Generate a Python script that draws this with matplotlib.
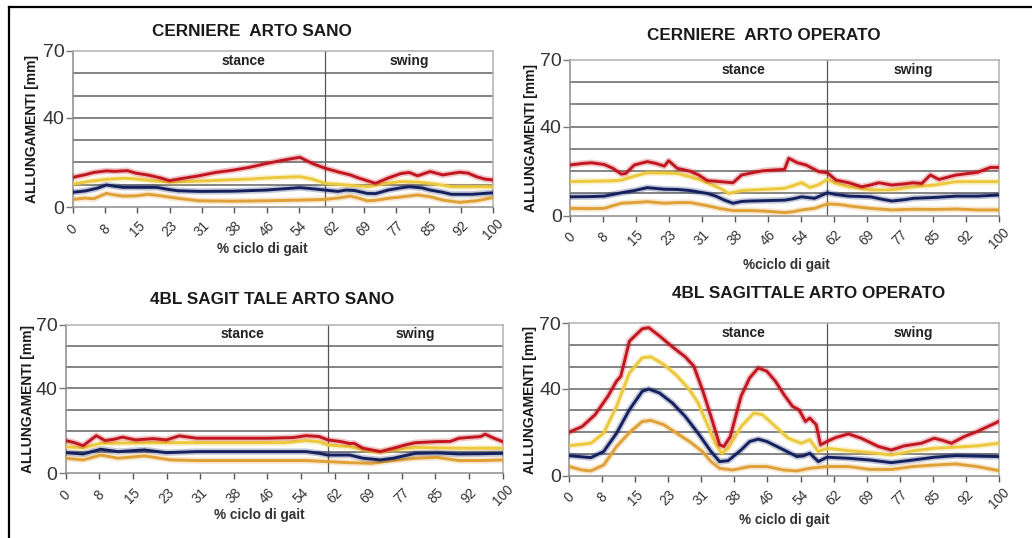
import matplotlib
matplotlib.use("Agg")
import matplotlib.pyplot as plt
import matplotlib.patheffects as pe
from matplotlib.lines import Line2D

plt.rcParams["font.family"] = ["Liberation Sans", "DejaVu Sans"]

# x tick labels (% of gait cycle) and phase boundary
x_tick_labels = ["0", "8", "15", "23", "31", "38", "46", "54",
                 "62", "69", "77", "85", "92", "100"]
phase_split = 60
y_labels = [0, 40, 70]

titles = ["CERNIERE  ARTO SANO", "CERNIERE  ARTO OPERATO",
          "4BL SAGIT TALE ARTO SANO", "4BL SAGITTALE ARTO OPERATO"]
x_titles = ["% ciclo di gait", "%ciclo di gait",
            "% ciclo di gait", "% ciclo di gait"]

# ---- CERNIERE, arto sano: (x %, elongation mm)
cs_red = [(0, 13.3), (3, 14.5), (5, 15.5), (8, 16.2), (10, 16.0), (13, 16.3), (15, 15.2),
          (18, 14.3), (21, 13.0), (23, 11.8), (26, 12.8), (30, 14.0), (34, 15.5), (38, 16.5),
          (42, 17.8), (46, 19.5), (50, 21.0), (54, 22.3), (57, 19.5), (60, 17.4), (63, 15.8),
          (66, 14.4), (68, 13.0), (70, 11.8), (72, 10.6), (75, 13.0), (78, 15.0), (80, 15.5),
          (82, 14.0), (85, 15.9), (88, 14.4), (92, 15.6), (94, 15.2), (96, 13.6), (98, 12.5),
          (100, 12.1)]
cs_yellow = [(0, 10.3), (4, 11.5), (8, 12.4), (12, 12.9), (15, 12.6), (19, 11.8), (23, 11.2),
             (28, 11.5), (35, 12.0), (42, 12.5), (48, 13.2), (54, 13.6), (57, 12.5), (60, 10.6),
             (65, 9.9), (70, 9.1), (74, 10.5), (78, 11.4), (82, 11.2), (85, 10.6), (88, 9.8),
             (90, 9.1), (95, 9.1), (100, 9.1)]
cs_navy = [(0, 6.6), (3, 7.2), (6, 8.5), (8, 9.9), (10, 9.3), (12, 8.8), (16, 8.8), (20, 8.8),
           (23, 7.8), (25, 7.3), (30, 7.0), (38, 7.1), (46, 7.6), (54, 8.7), (57, 8.2), (60, 7.6),
           (63, 7.0), (65, 7.6), (67, 7.4), (70, 6.1), (72, 6.0), (75, 7.6), (78, 8.6), (80, 9.1),
           (83, 8.6), (85, 7.6), (88, 6.6), (90, 5.7), (95, 5.7), (100, 6.4)]
cs_orange = [(0, 3.4), (3, 4.0), (5, 3.7), (8, 6.1), (10, 5.4), (12, 4.9), (15, 5.0), (18, 5.7),
             (21, 5.0), (25, 3.9), (30, 2.8), (38, 2.6), (46, 2.8), (54, 3.1), (60, 3.4),
             (63, 4.0), (66, 4.9), (68, 4.0), (70, 2.8), (72, 3.0), (75, 3.9), (78, 4.5),
             (82, 5.4), (85, 4.6), (88, 3.1), (92, 2.1), (96, 2.8), (100, 4.3)]

# ---- CERNIERE, arto operato
co_red = [(0, 22.8), (3, 23.5), (5, 23.8), (8, 23.0), (10, 21.3), (12, 18.7), (13, 19.0),
          (15, 22.8), (18, 24.3), (20, 23.5), (22, 22.3), (23, 24.7), (25, 21.3), (28, 20.0),
          (30, 18.3), (32, 15.8), (35, 15.3), (38, 14.8), (40, 18.3), (43, 19.5), (45, 20.2),
          (48, 20.6), (50, 20.8), (51, 25.8), (53, 23.8), (55, 22.8), (58, 19.8), (60, 19.3),
          (62, 16.0), (65, 14.8), (68, 13.0), (70, 13.8), (72, 14.8), (75, 13.8), (78, 14.3),
          (80, 14.8), (82, 14.5), (84, 18.3), (86, 16.3), (90, 18.3), (95, 19.5), (98, 21.7),
          (100, 21.7)]
co_yellow = [(0, 15.3), (5, 15.5), (10, 15.7), (12, 16.0), (15, 17.8), (18, 19.3), (22, 19.2),
             (25, 19.0), (28, 17.5), (30, 16.3), (33, 14.0), (35, 12.3), (37, 10.0), (40, 11.3),
             (45, 11.8), (50, 12.3), (52, 13.5), (54, 14.8), (56, 12.7), (58, 14.0), (60, 16.3),
             (62, 14.5), (65, 13.0), (70, 11.6), (75, 11.6), (80, 13.0), (85, 13.8), (90, 15.3),
             (95, 15.3), (100, 15.3)]
co_navy = [(0, 8.5), (5, 8.6), (8, 8.8), (12, 10.3), (15, 11.3), (18, 12.6), (22, 11.9),
           (25, 11.8), (28, 11.3), (32, 10.0), (34, 8.8), (36, 7.0), (38, 5.6), (40, 6.4),
           (42, 6.6), (46, 6.8), (50, 7.0), (52, 7.6), (54, 8.5), (57, 7.8), (60, 10.3),
           (62, 9.5), (65, 8.8), (70, 8.5), (73, 7.3), (75, 6.6), (78, 7.2), (80, 7.8),
           (85, 8.2), (90, 8.8), (95, 8.8), (100, 9.3)]
co_orange = [(0, 3.3), (5, 3.2), (8, 3.3), (10, 4.5), (12, 5.6), (15, 5.9), (18, 6.3),
             (22, 5.6), (25, 5.9), (28, 5.9), (30, 5.2), (33, 4.1), (35, 3.2), (38, 2.3),
             (42, 2.3), (45, 2.1), (50, 1.4), (52, 1.8), (54, 2.6), (57, 3.3), (60, 5.3),
             (63, 5.0), (65, 4.4), (70, 3.3), (75, 2.6), (80, 2.9), (85, 2.8), (90, 3.0),
             (95, 2.6), (100, 2.6)]

# ---- 4BL sagittale, arto sano
ss_red = [(0, 15.4), (2, 14.4), (4, 13.0), (7, 17.7), (9, 15.4), (11, 16.0), (13, 17.0),
          (16, 15.7), (20, 16.3), (23, 15.7), (26, 17.6), (30, 16.5), (38, 16.5), (46, 16.5),
          (52, 16.8), (55, 17.7), (58, 17.3), (60, 15.7), (63, 14.9), (65, 14.0), (66, 14.1),
          (68, 11.8), (72, 10.2), (75, 11.8), (78, 13.5), (80, 14.4), (85, 14.9), (88, 15.0),
          (90, 16.5), (95, 17.3), (96, 18.4), (98, 16.5), (100, 14.9)]
ss_yellow = [(0, 12.5), (4, 12.0), (8, 14.1), (12, 14.2), (20, 14.4), (30, 14.4), (40, 14.4),
             (50, 14.4), (55, 15.4), (58, 14.8), (60, 13.3), (65, 12.5), (68, 11.2), (70, 10.2),
             (72, 10.0), (75, 11.0), (80, 12.2), (85, 12.0), (90, 11.8), (100, 11.8)]
ss_navy = [(0, 9.7), (4, 9.1), (8, 11.3), (12, 10.2), (18, 11.0), (23, 9.7), (30, 10.2),
           (40, 10.2), (50, 10.2), (55, 10.2), (58, 9.4), (60, 8.6), (65, 8.6), (68, 7.1),
           (72, 6.3), (75, 7.1), (80, 9.4), (85, 9.6), (90, 9.1), (95, 9.2), (100, 9.4)]
ss_orange = [(0, 7.1), (4, 6.3), (8, 8.6), (12, 7.1), (18, 8.2), (24, 6.3), (30, 6.0),
             (40, 6.0), (50, 6.0), (55, 6.0), (60, 5.5), (65, 5.0), (70, 4.7), (75, 6.0),
             (80, 7.1), (85, 7.5), (90, 6.0), (95, 6.0), (100, 6.3)]

# ---- 4BL sagittale, arto operato
so_red = [(0, 20.0), (3, 22.6), (6, 28.0), (9, 36.5), (11, 43.4), (12, 45.7), (14, 61.8),
          (17, 67.5), (18.5, 68.0), (21, 64.2), (24, 59.2), (27, 54.6), (29, 50.3), (31, 39.5),
          (33, 27.2), (35, 14.2), (36, 13.4), (37.5, 18.0), (40, 36.5), (42, 44.9), (44, 49.5),
          (46, 48.0), (48, 43.4), (50, 37.2), (52, 31.8), (53.5, 30.3), (55, 24.9), (56, 26.5),
          (57.5, 23.4), (58.5, 14.2), (60, 15.7), (62, 17.5), (65, 19.2), (68, 17.2),
          (72, 13.4), (75, 11.8), (78, 13.7), (82, 14.9), (85, 17.2), (87, 16.2), (89, 14.9),
          (92, 18.0), (95, 20.3), (100, 24.9)]
so_yellow = [(0, 13.8), (5, 14.9), (8, 19.5), (11, 31.8), (14, 47.2), (17, 54.2), (19, 54.6),
             (22, 51.1), (25, 46.0), (28, 39.5), (30, 33.4), (32, 24.2), (34, 14.9),
             (35.5, 10.3), (37, 12.6), (40, 22.6), (43, 28.8), (45, 28.0), (48, 22.6),
             (51, 17.2), (54, 14.9), (56, 16.5), (58, 11.1), (60, 12.6), (65, 11.5), (70, 10.6),
             (75, 9.5), (80, 11.4), (85, 12.6), (90, 13.1), (95, 13.7), (100, 14.9)]
so_navy = [(0, 9.2), (5, 8.3), (8, 11.1), (11, 19.5), (14, 30.3), (17, 38.8), (18.5, 39.8),
           (21, 38.0), (24, 33.4), (27, 27.2), (30, 19.5), (33, 11.1), (35, 6.5), (37, 6.9),
           (40, 11.8), (42, 15.7), (44, 16.8), (46, 15.7), (50, 11.8), (53, 8.8), (54.5, 9.1),
           (56, 10.3), (58, 6.5), (60, 8.5), (65, 8.0), (70, 7.2), (75, 6.0), (80, 7.2),
           (85, 8.5), (90, 9.2), (100, 8.8)]
so_orange = [(0, 4.2), (3, 2.6), (5, 2.2), (8, 4.9), (11, 13.4), (14, 19.8), (17, 24.9),
             (19, 25.4), (22, 23.4), (25, 19.5), (28, 15.7), (31, 11.1), (33, 6.5), (35, 3.4),
             (38, 2.6), (42, 4.2), (46, 4.2), (50, 2.6), (53, 2.2), (56, 3.4), (60, 4.2),
             (65, 4.2), (70, 2.9), (75, 2.9), (80, 4.2), (85, 4.9), (90, 5.4), (95, 4.2),
             (100, 2.3)]

series_colors = {"red": "#c1161f", "yellow": "#ecc93c", "navy": "#14215e", "orange": "#e0a038"}

panels = [
    dict(series=[("orange", cs_orange), ("yellow", cs_yellow), ("navy", cs_navy), ("red", cs_red)],
         rect=[72.7, 51, 493.3, 207], title_xy=(252, 32), ylab_x=32, xlab_xy=(262, 249)),
    dict(series=[("orange", co_orange), ("yellow", co_yellow), ("navy", co_navy), ("red", co_red)],
         rect=[570, 60, 999, 215.7], title_xy=(764, 35), ylab_x=531, xlab_xy=(786, 265)),
    dict(series=[("orange", ss_orange), ("yellow", ss_yellow), ("navy", ss_navy), ("red", ss_red)],
         rect=[65.7, 324.5, 502.7, 473.3], title_xy=(272, 300), ylab_x=28, xlab_xy=(259, 515)),
    dict(series=[("orange", so_orange), ("yellow", so_yellow), ("navy", so_navy), ("red", so_red)],
         rect=[569.3, 323.3, 998.7, 475.7], title_xy=(809, 294), ylab_x=530, xlab_xy=(784, 520)),
]

W, H = 1032, 538
fig = plt.figure(figsize=(W / 100, H / 100), dpi=100)
fig.patch.set_facecolor("white")

# outer frame (left and top edges)
fig.add_artist(Line2D([9 / W, 9 / W], [0, 1 - 7 / H], color="black", lw=1.6,
                      transform=fig.transFigure))
fig.add_artist(Line2D([9 / W, 1], [1 - 7 / H, 1 - 7 / H], color="black", lw=1.6,
                      transform=fig.transFigure))

n_ticks = len(x_tick_labels)
x_tick_pos = [i * 100 / (n_ticks - 1) for i in range(n_ticks)]

for i, p in enumerate(panels):
    l, t, r, b = p["rect"]
    ax = fig.add_axes([l / W, 1 - b / H, (r - l) / W, (b - t) / H])
    ax.set_xlim(0, 100)
    ax.set_ylim(0, 70)

    for name, pts in p["series"]:
        xs = [q[0] for q in pts]
        ys = [q[1] for q in pts]
        c = series_colors[name]
        ax.plot(xs, ys, color=c, lw=2.1, solid_joinstyle="round", zorder=4,
                path_effects=[pe.Stroke(linewidth=4.6, foreground=c, alpha=0.25), pe.Normal()])

    # horizontal grid every 10 mm, phase divider
    for gy in range(10, 70, 10):
        ax.axhline(gy, color="#707070", lw=1.2, zorder=1)
    ax.axvline(phase_split, color="#555555", lw=0.9, zorder=2)

    for side in ["left", "bottom"]:
        ax.spines[side].set_color("#8c8c8c")
        ax.spines[side].set_linewidth(1.1)
    for side in ["top", "right"]:
        ax.spines[side].set_color("#b0b0b0")
        ax.spines[side].set_linewidth(1.1)

    ax.set_yticks(y_labels)
    ax.set_yticklabels([str(v) for v in y_labels], fontsize=14, color="#333333")
    ax.tick_params(axis="y", direction="out", length=5, width=1, color="#777777", pad=1)

    ax.set_xticks(x_tick_pos)
    ax.set_xticklabels(x_tick_labels, rotation=45, ha="center", va="center",
                       fontsize=9.8, color="#333333")
    ax.tick_params(axis="x", direction="out", length=4, width=1, color="#555555", pad=12)

    ax.text(40.5, 65.5, "stance", ha="center", va="center", fontsize=10, fontweight="bold",
            color="#222222", zorder=5)
    ax.text(80, 65.5, "swing", ha="center", va="center", fontsize=10, fontweight="bold",
            color="#222222", zorder=5)

    tx, ty = p["title_xy"]
    fig.text(tx / W, 1 - ty / H, titles[i], ha="center", va="center", fontsize=12.3,
             fontweight="bold", color="#1a1a1a")
    fig.text(p["ylab_x"] / W, 1 - ((t + b) / 2) / H, "ALLUNGAMENTI [mm]", rotation=90,
             ha="center", va="center", fontsize=10, fontweight="bold", color="#1a1a1a")
    lx, ly = p["xlab_xy"]
    fig.text(lx / W, 1 - ly / H, x_titles[i], ha="center", va="center", fontsize=9.8,
             fontweight="bold", color="#333333")

fig.savefig("out.png", dpi=100, facecolor="white")
